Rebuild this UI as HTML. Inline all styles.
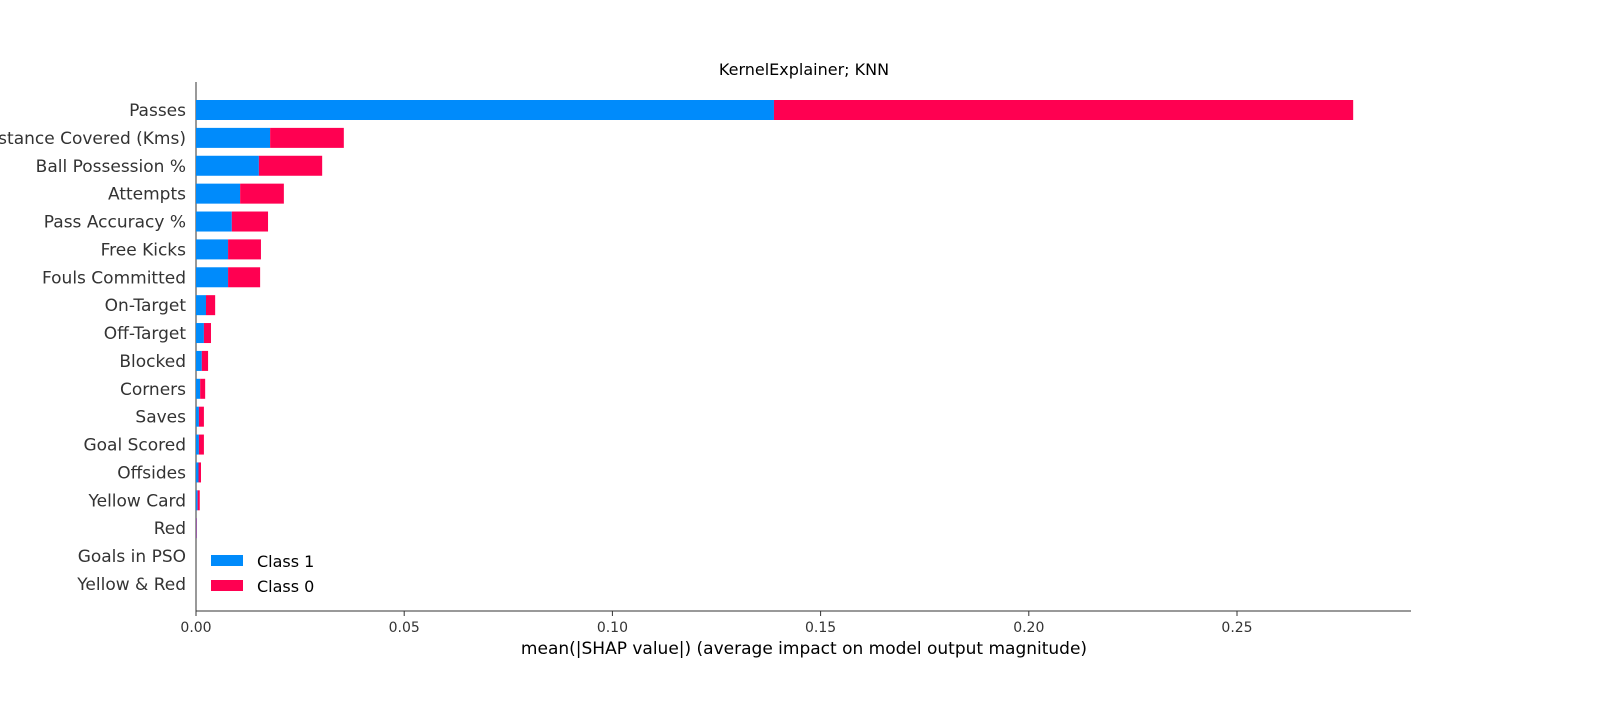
<!DOCTYPE html>
<html><head><meta charset="utf-8"><style>
body{margin:0;background:#fff;}
svg text{font-family:"DejaVu Sans","Liberation Sans",sans-serif;}
</style></head><body>
<svg id="chart" width="1600" height="700" xmlns="http://www.w3.org/2000/svg">
<text x="804" y="75" font-size="16" text-anchor="middle" fill="#000">KernelExplainer; KNN</text>
<line x1="196" y1="82" x2="196" y2="611" stroke="#333" stroke-width="1"/>
<line x1="196" y1="611" x2="1411" y2="611" stroke="#333" stroke-width="1"/>
<g id="bars"></g>
<g id="ylabels"></g>
<g id="xticks"></g>
<text x="804" y="654" font-size="17" text-anchor="middle" fill="#000">mean(|SHAP value|) (average impact on model output magnitude)</text>
<g>
<rect x="211" y="555" width="32" height="11" fill="#008bfb"/>
<text x="257" y="567" font-size="16" fill="#000">Class 1</text>
<rect x="211" y="580" width="32" height="11" fill="#ff0051"/>
<text x="257" y="592" font-size="16" fill="#000">Class 0</text>
</g>
</svg>
<script>
const features=["Passes","Distance Covered (Kms)","Ball Possession %","Attempts","Pass Accuracy %","Free Kicks","Fouls Committed","On-Target","Off-Target","Blocked","Corners","Saves","Goal Scored","Offsides","Yellow Card","Red","Goals in PSO","Yellow & Red"];
const class1=[0.1388,0.0178,0.0151,0.0106,0.0086,0.0077,0.0077,0.0024,0.0019,0.0014,0.0010,0.0007,0.0007,0.0006,0.0004,0.0001,0,0];
const class0=[0.1391,0.0177,0.0152,0.0105,0.0087,0.0079,0.0077,0.0022,0.0017,0.0015,0.0012,0.0012,0.0012,0.0006,0.0005,0.0001,0,0];
const xticks=[0,0.05,0.10,0.15,0.20,0.25];
const xtickLabels=["0.00","0.05","0.10","0.15","0.20","0.25"];
const NS="http://www.w3.org/2000/svg";
const x=v=>196+v*4164;
const y=i=>110+i*27.88;
const bars=document.getElementById('bars'),yl=document.getElementById('ylabels'),xt=document.getElementById('xticks');
function mk(t,a){const e=document.createElementNS(NS,t);for(const k in a)e.setAttribute(k,a[k]);return e;}
features.forEach((f,i)=>{
  const b=mk('rect',{x:x(0),y:y(i)-10,width:x(class1[i])-x(0),height:20,fill:'#008bfb'});
  
  
  bars.appendChild(b);
  const r=mk('rect',{x:x(class1[i]),y:y(i)-10,width:x(class1[i]+class0[i])-x(class1[i]),height:20,fill:'#ff0051'});
  
  
  bars.appendChild(r);
  const t=mk('text',{x:186,y:y(i)+6,'font-size':17,'text-anchor':'end',fill:'#333'});
  t.textContent=f;
  
  
  yl.appendChild(t);
});
xticks.forEach((v,i)=>{
  const l=mk('line',{x1:x(v),y1:611,x2:x(v),y2:616,stroke:'#333'});
  
  
  xt.appendChild(l);
  const t=mk('text',{x:x(v),y:632,'font-size':14,'text-anchor':'middle',fill:'#333'});
  t.textContent=xtickLabels[i];
  
  
  xt.appendChild(t);
});
</script>
</body></html>
